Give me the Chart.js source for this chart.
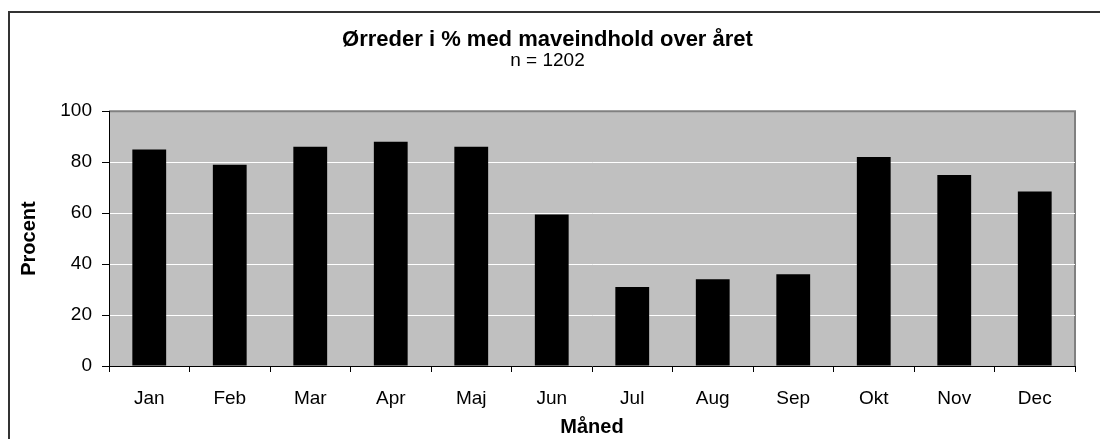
<!DOCTYPE html>
<html>
<head>
<meta charset="utf-8">
<script src="https://cdn.jsdelivr.net/npm/chart.js@4.4.1/dist/chart.umd.min.js"></script>
<style>
  html, body { margin: 0; padding: 0; background: #fff; }
  #wrap { position: relative; width: 1100px; height: 439px; overflow: hidden; }
  #frame { position: absolute; left: 8px; top: 11px; width: 1200px; height: 600px; border: 2px solid #333; }
  #chart { position: absolute; left: 0; top: 0; }
</style>
</head>
<body>
<div id="wrap">
  <div id="frame"></div>
  <canvas id="chart" width="1100" height="439"></canvas>
</div>
<script>
const months = ["Jan", "Feb", "Mar", "Apr", "Maj", "Jun", "Jul", "Aug", "Sep", "Okt", "Nov", "Dec"];
const percent = [85, 79, 86, 88, 86, 59.5, 31, 34, 36, 82, 75, 68.5];
const yTicks = [0, 20, 40, 60, 80, 100];

const fontFam = "'Liberation Sans', Arial, sans-serif";

// grey plot area like the old excel charts
const plotBg = {
  id: "plotBg",
  beforeDraw(chart) {
    const { ctx, chartArea: a } = chart;
    ctx.save();
    ctx.fillStyle = "#c0c0c0";
    ctx.fillRect(a.left, a.top, a.right - a.left, a.bottom - a.top);
    ctx.strokeStyle = "#808080";
    ctx.lineWidth = 2;
    ctx.beginPath();
    ctx.moveTo(a.left, a.top);
    ctx.lineTo(a.right, a.top);
    ctx.lineTo(a.right, a.bottom);
    ctx.stroke();
    ctx.restore();
  },
};

const config = {
  type: "bar",
  data: {
    labels: months,
    datasets: [
      {
        label: "Procent",
        data: percent,
        backgroundColor: "#000",
        borderWidth: 0,
        barPercentage: 0.42,
        categoryPercentage: 1,
      },
    ],
  },
  options: {
    responsive: false,
    animation: false,
    layout: { padding: { left: 20, right: 25, top: 0, bottom: 0 } },
    plugins: {
      legend: { display: false },
      tooltip: { enabled: false },
      title: {
        display: true,
        text: "Ørreder i % med maveindhold over året",
        color: "#000",
        font: { family: fontFam, size: 22, weight: "bold" },
        padding: { top: 27, bottom: 0 },
      },
      subtitle: {
        display: true,
        text: "n = 1202",
        color: "#000",
        font: { family: fontFam, size: 19 },
        padding: { top: -4, bottom: 39 },
      },
    },
    scales: {
      x: {
        grid: { drawOnChartArea: false, drawTicks: true, tickLength: 6, color: "#000", offset: true },
        border: { display: true, color: "#000", width: 1 },
        ticks: { color: "#000", font: { family: fontFam, size: 19 }, padding: 15 },
        title: {
          display: true,
          text: "Måned",
          color: "#000",
          font: { family: fontFam, size: 20, weight: "bold" },
          padding: { top: 0, bottom: 0 },
        },
        afterFit(scale) {
          scale.height = 73;
        },
      },
      y: {
        min: 0,
        max: 100,
        afterBuildTicks(scale) {
          scale.ticks = yTicks.map((v) => ({ value: v }));
        },
        grid: {
          color: (c) => (c.tick && (c.tick.value === 0 || c.tick.value === 100) ? "rgba(0,0,0,0)" : "#fff"),
          tickColor: "#000",
          tickLength: 7,
        },
        border: { display: true, color: "#000", width: 1 },
        ticks: { color: "#000", font: { family: fontFam, size: 19 }, padding: 10 },
        title: {
          display: true,
          text: "Procent",
          color: "#000",
          font: { family: fontFam, size: 20, weight: "bold" },
          padding: { top: -3, bottom: 0 },
        },
        afterFit(scale) {
          scale.width = 89;
        },
      },
    },
  },
  plugins: [plotBg],
};

const chart = new Chart(document.getElementById("chart"), config);
</script>
</body>
</html>
